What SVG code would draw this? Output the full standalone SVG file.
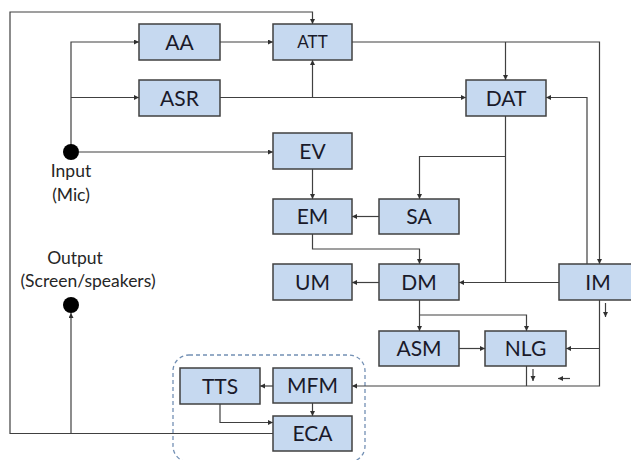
<svg xmlns="http://www.w3.org/2000/svg" width="631" height="460" viewBox="0 0 631 460">
<style>
.box{fill:#c6d9f0;stroke:#404040;stroke-width:1.5}
.lbl{font-family:Lato,"Open Sans",sans-serif;font-size:21px;fill:#1a1a2a;text-anchor:middle}
.small{font-size:17px}
.note{font-family:Lato,"Open Sans",sans-serif;font-size:17.5px;fill:#262626;text-anchor:middle}
.c{fill:none;stroke:#404040;stroke-width:1.2}
.a{marker-end:url(#arr)}
</style>
<defs>
<marker id="arr" markerUnits="userSpaceOnUse" markerWidth="6" markerHeight="6" refX="5" refY="2.5" orient="auto">
<path d="M0,0 L5,2.5 L0,5 z" fill="#303030"/>
</marker>
</defs>
<rect x="173" y="355" width="192" height="107" rx="16" fill="none" stroke="#7390b4" stroke-width="1.3" stroke-dasharray="4,3"/>
<g id="connectors">
<path class="c a" d="M273,433.5 H10 V12 H312.5 V24"/>
<path class="c a" d="M71,433.5 V313"/>
<path class="c a" d="M71,152 V42 H139"/>
<path class="c a" d="M71,97.5 H139"/>
<path class="c a" d="M79,152 H273"/>
<path class="c a" d="M220,42 H273"/>
<path class="c a" d="M220,97.5 H466"/>
<path class="c a" d="M312.5,97.5 V60"/>
<path class="c a" d="M352,42 H599.5 V264"/>
<path class="c a" d="M505.5,42 V80"/>
<path class="c a" d="M587,264 V97.5 H546"/>
<path class="c a" d="M505.5,116 V282.5 H459"/>
<path class="c a" d="M505.5,156.5 H419.5 V199"/>
<path class="c" d="M559,282.5 H505.5"/>
<path class="c a" d="M379,216.5 H352"/>
<path class="c a" d="M312.5,169 V199"/>
<path class="c a" d="M312.5,234 V249 H419.5 V264"/>
<path class="c a" d="M379,282.5 H352"/>
<path class="c a" d="M419.5,300 V331"/>
<path class="c a" d="M419.5,315 H526.5 V331"/>
<path class="c a" d="M459,348.5 H485"/>
<path class="c a" d="M599.5,300 V386 H352"/>
<path class="c a" d="M599.5,348.5 H566"/>
<path class="c" d="M526.5,366 V386"/>
<path class="c a" d="M312.5,403 V416"/>
<path class="c a" d="M273,386 H260"/>
<path class="c a" d="M220,404 V422.5 H273"/>
<path class="c a" d="M533,369 V381"/>
<path class="c a" d="M570,378.5 H558"/>
<path class="c a" d="M605.5,303 V317"/>
</g>
<g id="input"><circle cx="71" cy="152" r="8" fill="#000"/><text class="note" x="71" y="177">Input</text><text class="note" x="71" y="201">(Mic)</text></g>
<g id="output"><circle cx="71" cy="305" r="8" fill="#000"/><text class="note" x="75" y="264">Output</text><text class="note" x="88" y="287">(Screen/speakers)</text></g>
<g id="AA"><rect class="box" x="139" y="24" width="81" height="36"/><text class="lbl" x="179.5" y="49.5">AA</text></g>
<g id="ATT"><rect class="box" x="273" y="24" width="79" height="36"/><text class="lbl small" x="312.5" y="48">ATT</text></g>
<g id="ASR"><rect class="box" x="139" y="80" width="81" height="36"/><text class="lbl" x="179.5" y="105.5">ASR</text></g>
<g id="DAT"><rect class="box" x="466" y="80" width="80" height="36"/><text class="lbl" x="506" y="105.5">DAT</text></g>
<g id="EV"><rect class="box" x="273" y="133" width="79" height="36"/><text class="lbl" x="312.5" y="158.5">EV</text></g>
<g id="EM"><rect class="box" x="273" y="199" width="79" height="35"/><text class="lbl" x="312.5" y="224">EM</text></g>
<g id="SA"><rect class="box" x="379" y="199" width="80" height="35"/><text class="lbl" x="419" y="224">SA</text></g>
<g id="UM"><rect class="box" x="273" y="264" width="79" height="36"/><text class="lbl" x="312.5" y="289.5">UM</text></g>
<g id="DM"><rect class="box" x="379" y="264" width="80" height="36"/><text class="lbl" x="419" y="289.5">DM</text></g>
<g id="IM"><rect class="box" x="559" y="264" width="80" height="36"/><text class="lbl" x="598" y="289.5">IM</text></g>
<g id="ASM"><rect class="box" x="379" y="331" width="80" height="35"/><text class="lbl" x="419" y="356">ASM</text></g>
<g id="NLG"><rect class="box" x="485" y="331" width="81" height="35"/><text class="lbl" x="525.5" y="356">NLG</text></g>
<g id="TTS"><rect class="box" x="180" y="368" width="80" height="36"/><text class="lbl" x="220" y="393.5">TTS</text></g>
<g id="MFM"><rect class="box" x="273" y="368" width="79" height="35"/><text class="lbl" x="312.5" y="393">MFM</text></g>
<g id="ECA"><rect class="box" x="273" y="416" width="79" height="35"/><text class="lbl" x="312.5" y="441">ECA</text></g>
</svg>
